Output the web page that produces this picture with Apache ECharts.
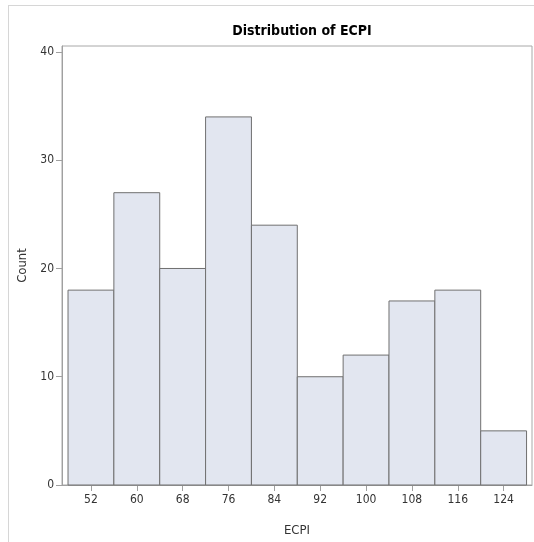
<!DOCTYPE html>
<html>
<head>
<meta charset="utf-8">
<script src="https://cdn.jsdelivr.net/npm/echarts@6/dist/echarts.min.js"></script>
<style>
html,body{margin:0;padding:0;background:#fff;}
#wrap{position:relative;width:534px;height:542px;}
#frame{position:absolute;left:8px;top:5px;width:526px;height:537px;border-left:1px solid #d6d6d6;border-top:1px solid #d6d6d6;box-sizing:border-box;}
#chart{position:absolute;left:0;top:0;width:534px;height:542px;}
</style>
</head>
<body>
<div id="wrap"><div id="frame"></div><div id="chart"></div></div>
<script>
// Bin midpoints (ECPI), bin width 8
const binMids = [52, 60, 68, 76, 84, 92, 100, 108, 116, 124];
const binWidth = 8;
const counts = [18, 27, 20, 34, 24, 10, 12, 17, 18, 5];
const xTicks = [52, 60, 68, 76, 84, 92, 100, 108, 116, 124];
const yTicks = [0, 10, 20, 30, 40];

const font = "'Liberation Sans Narrow', 'DejaVu Sans Condensed', 'Liberation Sans', Arial, sans-serif";
const data = binMids.map((m, i) => [m - binWidth / 2, m + binWidth / 2, counts[i]]);

const chart = echarts.init(document.getElementById('chart'), null, {renderer: 'canvas'});
chart.setOption({
  animation: false,
  backgroundColor: 'transparent',
  title: {
    text: 'Distribution of ECPI',
    left: 297, top: 19, textAlign: 'center',
    textStyle: {fontFamily: font, fontSize: 14, fontWeight: 'bold', color: '#000'}
  },
  grid: {left: 62, right: 2, top: 46, bottom: 57, show: true, borderColor: '#a8a8a8', borderWidth: 1, backgroundColor: 'transparent'},
  xAxis: {
    type: 'value', min: 46.95, max: 128.95,
    name: 'ECPI', nameLocation: 'middle', nameGap: 39,
    nameTextStyle: {fontFamily: font, fontSize: 13, color: '#333'},
    axisLine: {show: true, lineStyle: {color: '#a0a0a0'}},
    axisTick: {show: true, customValues: xTicks, length: 6, lineStyle: {color: '#a0a0a0'}},
    axisLabel: {customValues: xTicks, fontFamily: font, fontSize: 12, color: '#333', margin: 9},
    splitLine: {show: false}
  },
  yAxis: {
    type: 'value', min: 0, max: 40.55,
    name: 'Count', nameLocation: 'middle', nameGap: 31, nameRotate: 90,
    nameTextStyle: {fontFamily: font, fontSize: 13, color: '#333'},
    axisLine: {show: true, lineStyle: {color: '#a0a0a0'}},
    axisTick: {show: true, customValues: yTicks, length: 6, lineStyle: {color: '#a0a0a0'}},
    axisLabel: {customValues: yTicks, fontFamily: font, fontSize: 12, color: '#333', margin: 8},
    splitLine: {show: false}
  },
  series: [{
    type: 'custom',
    data: data,
    encode: {x: [0, 1], y: 2},
    renderItem: function (params, api) {
      const p0 = api.coord([api.value(0), 0]);
      const p1 = api.coord([api.value(1), api.value(2)]);
      return {
        type: 'rect',
        shape: {x: p0[0], y: p1[1], width: p1[0] - p0[0], height: p0[1] - p1[1]},
        style: {fill: '#e2e6f0', stroke: '#707070', lineWidth: 1}
      };
    }
  }]
});
</script>
</body>
</html>
